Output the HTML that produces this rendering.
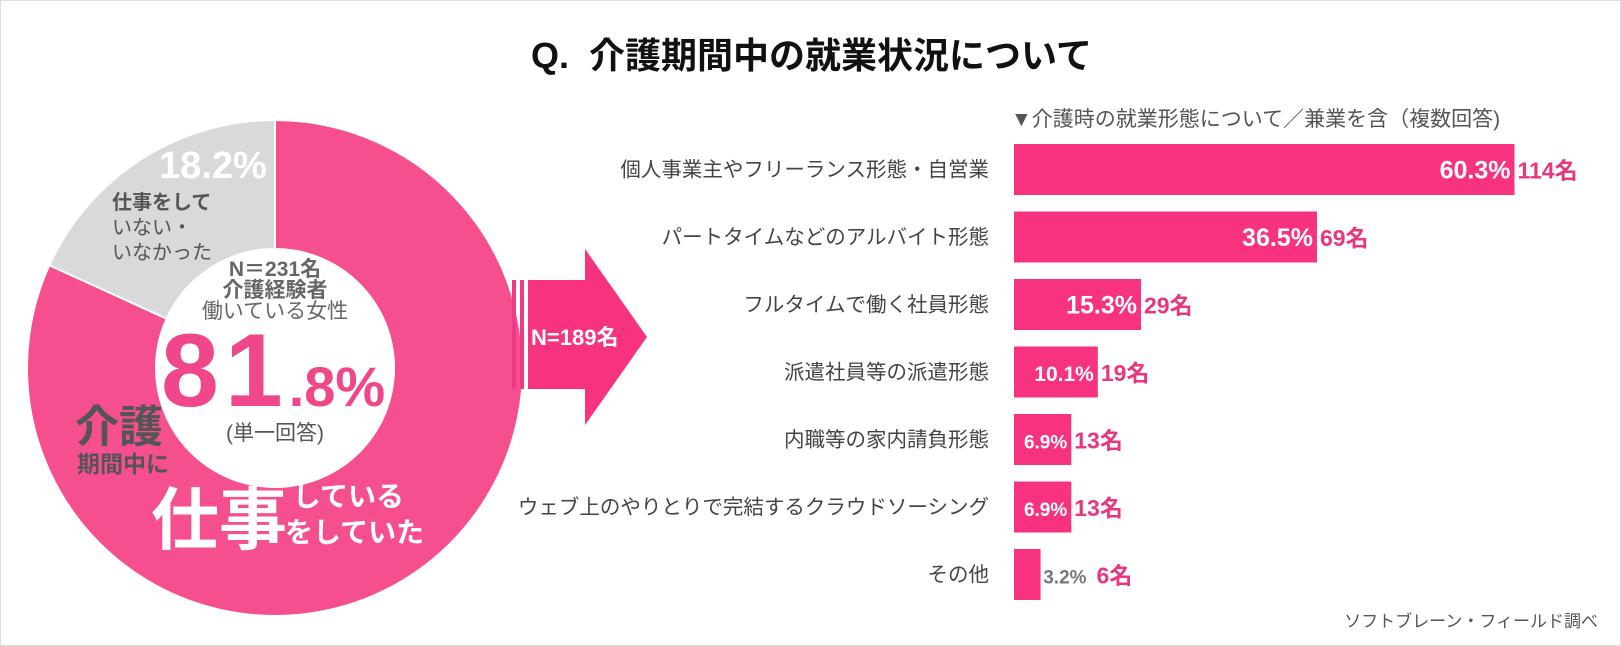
<!DOCTYPE html>
<html><head><meta charset="utf-8"><style>
body{margin:0;background:#fff;}
#wrap{position:relative;width:1621px;height:646px;overflow:hidden;font-family:"Liberation Sans","Noto Sans CJK JP",sans-serif;border:1px solid #ddd;box-sizing:border-box;}
.t{position:absolute;white-space:nowrap;}
</style></head><body>
<div id="wrap">
<div class="t" style="left:0;width:1621px;text-align:center;top:26px;font-size:36px;font-weight:bold;color:#111;"><span style="position:relative;left:0px">Q.&nbsp;&nbsp;介護期間中の就業状況について</span></div>
<svg id="donut" width="1621" height="646" style="position:absolute;left:0;top:0"></svg>
<div class="t" style="left:158px;top:144px;font-size:38px;font-weight:bold;color:#fff">18.2%</div>
<div class="t" style="left:111px;top:190px;font-size:20px;line-height:25px;color:#555"><b>仕事をして</b><br>いない・<br>いなかった</div>
<div class="t" style="left:164px;width:220px;text-align:center;top:258px;font-size:21px;line-height:21px;color:#666"><b>N＝231名<br>介護経験者</b><br>働いている女性</div>
<div class="t" style="left:160px;top:318px;color:#f0468a;font-weight:bold;font-size:104px;line-height:104px;letter-spacing:6px">81<span style="font-size:56px;letter-spacing:0">.8%</span></div>
<div class="t" style="left:174px;width:200px;text-align:center;top:416px;font-size:21px;color:#555">(単一回答)</div>
<div class="t" style="left:74px;top:390px;font-size:44px;font-weight:bold;color:#555">介護</div>
<div class="t" style="left:76px;top:444px;font-size:23px;font-weight:bold;color:#555">期間中に</div>
<div class="t" style="left:150px;top:464px;font-size:68px;font-weight:bold;color:#fff">仕事</div>
<div class="t" style="left:284px;top:478px;font-size:28px;line-height:36px;font-weight:bold;color:#fff">&nbsp;している<br>をしていた</div>
<svg width="1621" height="646" style="position:absolute;left:0;top:0">
<rect x="511" y="279" width="4" height="109" fill="#f03a86"/><rect x="519" y="279" width="4" height="109" fill="#f03a86"/>
<polygon points="527,279 584,279 584,248 646,336 584,424 584,388 527,388" fill="#f7327f"/>
<text x="530" y="344" font-size="22" font-weight="bold" fill="#fff" font-family="Liberation Sans, Noto Sans CJK JP, sans-serif">N=189名</text>
</svg>
<div class="t" style="left:1010px;top:102px;font-size:21px;color:#555">▼介護時の就業形態について／兼業を含（複数回答)</div>
<svg id="bars" width="1621" height="646" style="position:absolute;left:0;top:0"></svg>
<div class="t" style="right:22px;top:606px;font-size:17px;color:#555">ソフトブレーン・フィールド調べ</div>
</div>
<script>
const NS="http://www.w3.org/2000/svg";
const pieLabels=["仕事をしていた","仕事をしていない"];
const pieValues=[81.8,18.2];
const pieColors=["#f54f8f","#d9d9d9"];
const cats=["個人事業主やフリーランス形態・自営業","パートタイムなどのアルバイト形態","フルタイムで働く社員形態","派遣社員等の派遣形態","内職等の家内請負形態","ウェブ上のやりとりで完結するクラウドソーシング","その他"];
const pcts=[60.3,36.5,15.3,10.1,6.9,6.9,3.2];
const counts=[114,69,29,19,13,13,6];
function mk(t,a){const e=document.createElementNS(NS,t);for(const k in a)e.setAttribute(k,a[k]);return e;}
const dsv=document.getElementById('donut');
const cx=274,cy=367,R=248,r=119;
let start=0;const tot=pieValues.reduce((a,b)=>a+b,0);
pieValues.forEach((v,i)=>{
 const a0=start/tot*2*Math.PI,a1=(start+v)/tot*2*Math.PI;start+=v;
 const p=(a,rad)=>[cx+rad*Math.sin(a),cy-rad*Math.cos(a)];
 const [x0,y0]=p(a0,R),[x1,y1]=p(a1,R),[x2,y2]=p(a1,r),[x3,y3]=p(a0,r);
 const lg=(a1-a0)>Math.PI?1:0;
 const path=mk('path',{d:`M${x0},${y0}A${R},${R} 0 ${lg} 1 ${x1},${y1}L${x2},${y2}A${r},${r} 0 ${lg} 0 ${x3},${y3}Z`,fill:pieColors[i],stroke:'#fff','stroke-width':2});
 
 
 dsv.appendChild(path);
});
const bsv=document.getElementById('bars');
const x0=1013,scale=8.3,top0=143,step=67.5,bh=51;
const xs=v=>v*scale;
cats.forEach((c,i)=>{
 const y=top0+i*step,w=xs(pcts[i]);
 const rc=mk('rect',{x:x0,y:y,width:w,height:bh,fill:'#f7327f'});
 
 
 bsv.appendChild(rc);
 const lb=mk('text',{x:988,y:y+bh/2+7,'text-anchor':'end','font-size':20.5,fill:'#444','font-family':'Liberation Sans, Noto Sans CJK JP, sans-serif'});
 lb.textContent=c;
 
 
 bsv.appendChild(lb);
 const small=w<40;
 const pt=mk('text',{x:small?x0+w+46:x0+w-4,y:y+bh/2+9,'text-anchor':'end','font-size':pcts[i]<8?19:(pcts[i]<12?21:25),'font-weight':'bold',fill:small?'#777':'#fff','font-family':'Liberation Sans, Noto Sans CJK JP, sans-serif'});
 pt.textContent=pcts[i].toFixed(1)+'%';
 
 
 bsv.appendChild(pt);
 const ct=mk('text',{x:small?x0+w+56:x0+w+3,y:y+bh/2+9,'font-size':23,'font-weight':'bold',fill:'#e8377f','font-family':'Liberation Sans, Noto Sans CJK JP, sans-serif'});
 ct.textContent=counts[i]+'名';
 
 
 bsv.appendChild(ct);
});
</script>
</body></html>
